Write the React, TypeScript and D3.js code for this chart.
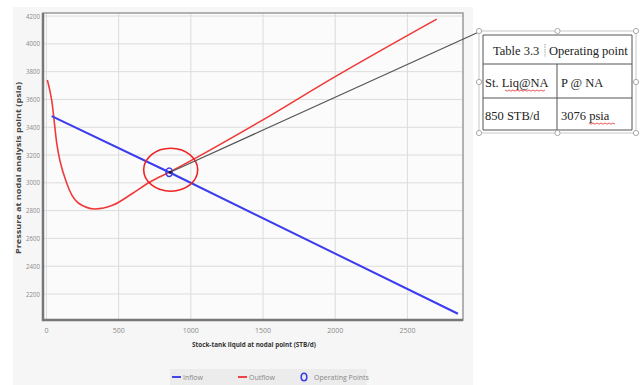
import React from 'react';
import { scaleLinear, line, curveMonotoneX } from 'd3';

// inflow (IPR) and outflow (VLP) curves
const inflowX = [36, 850, 2850];
const inflowP = [3480, 3076, 2058];

const outflowX = [6, 36, 71, 140, 220, 336, 461, 600, 717, 850, 1478, 1985, 2703];
const outflowP = [3740, 3596, 3286, 2998, 2855, 2812, 2840, 2927, 3006, 3076, 3440, 3755, 4178];

const opRate = 850;
const opPress = 3076;

const xTicks = [0, 500, 1000, 1500, 2000, 2500];
const yTicks = [2200, 2400, 2600, 2800, 3000, 3200, 3400, 3600, 3800, 4000, 4200];

const tableTitle = ['Table 3.3', 'Operating point'];
const tableHead = ['St. Liq@NA', 'P @ NA'];
const tableRow = ['850 STB/d', '3076 psia'];

const W = 640;
const H = 385;
const plot = { left: 43, right: 463, top: 13, bottom: 320 };

export default function App() {
  const x = scaleLinear().domain([-24, 2885]).range([plot.left, plot.right]);
  const y = scaleLinear().domain([2013, 4222]).range([plot.bottom, plot.top]);

  const lineGen = line<[number, number]>()
    .x(d => x(d[0]))
    .y(d => y(d[1]));
  const curveGen = line<[number, number]>()
    .x(d => x(d[0]))
    .y(d => y(d[1]))
    .curve(curveMonotoneX);

  const inflow = inflowX.map((v, i) => [v, inflowP[i]] as [number, number]);
  const outflow = outflowX.map((v, i) => [v, outflowP[i]] as [number, number]);

  const ox = x(opRate);
  const oy = y(opPress);

  const tickFont = "'Open Sans', sans-serif";
  const serif = "'Liberation Serif', 'Times New Roman', serif";

  // table geometry
  const tL = 483, tR = 632, tT = 35, tM = 557;
  const rows = [35, 64, 98, 130];
  const frame = { l: 479, r: 636, t: 31, b: 133 };
  const handles = [
    [frame.l, frame.t], [(frame.l + frame.r) / 2, frame.t], [frame.r, frame.t],
    [frame.l, (frame.t + frame.b) / 2], [frame.r, (frame.t + frame.b) / 2],
    [frame.l, frame.b], [(frame.l + frame.r) / 2, frame.b], [frame.r, frame.b],
  ];

  const squiggle = (x0: number, x1: number, yy: number) => {
    let d = `M${x0},${yy}`;
    for (let xx = x0, k = 0; xx < x1; xx += 2, k++) {
      d += ` L${xx + 2},${yy + (k % 2 === 0 ? 1.2 : 0)}`;
    }
    return d;
  };

  return (
    <svg width={W} height={H} style={{ position: 'absolute', left: 0, top: 0, background: '#fff' }}>
      <rect x={13} y={7} width={460} height={378} fill="#f6f6f6" />
      <rect x={plot.left} y={plot.top} width={plot.right - plot.left} height={plot.bottom - plot.top} fill="#fbfbfb" />

      {/* grid */}
      {xTicks.map(t => (
        <line key={'gx' + t} x1={x(t)} x2={x(t)} y1={plot.top} y2={plot.bottom} stroke="#dcdcdc" strokeWidth={1} />
      ))}
      {yTicks.map(t => (
        <line key={'gy' + t} x1={plot.left} x2={plot.right} y1={y(t)} y2={y(t)} stroke="#dcdcdc" strokeWidth={1} />
      ))}

      {/* border */}
      <rect x={plot.left} y={plot.top} width={plot.right - plot.left} height={plot.bottom - plot.top}
        fill="none" stroke="#9a9a9a" strokeWidth={1.5} />
      <line x1={plot.left} x2={plot.left} y1={plot.top} y2={plot.bottom + 1} stroke="#777" strokeWidth={2.5} />
      <line x1={plot.left - 1} x2={plot.right} y1={plot.bottom} y2={plot.bottom} stroke="#777" strokeWidth={2.5} />

      {/* tick labels */}
      {xTicks.map(t => (
        <text key={'tx' + t} x={x(t)} y={plot.bottom + 13} fontSize={7} fill="#8a8a8a"
          textAnchor="middle" fontFamily={tickFont}>{t}</text>
      ))}
      {yTicks.map(t => (
        <text key={'ty' + t} x={plot.left - 3} y={y(t) + 2.5} fontSize={7} fill="#8a8a8a"
          textAnchor="end" fontFamily={tickFont} textLength={14} lengthAdjust="spacingAndGlyphs">{t}</text>
      ))}

      {/* axis titles */}
      <text x={254} y={347} fontSize={7.5} fontWeight="bold" fill="#333" textAnchor="middle"
        fontFamily={tickFont} textLength={124} lengthAdjust="spacingAndGlyphs">
        Stock-tank liquid at nodal point (STB/d)
      </text>
      <text transform={`translate(20.5,168) rotate(-90)`} fontSize={7} fontWeight="bold" fill="#444"
        textAnchor="middle" fontFamily={tickFont} textLength={172} lengthAdjust="spacingAndGlyphs">
        Pressure at nodal analysis point (psia)
      </text>

      {/* curves */}
      <path d={curveGen(outflow) || ''} fill="none" stroke="#f03a3a" strokeWidth={1.6} />
      <path d={lineGen(inflow) || ''} fill="none" stroke="#3b3bf0" strokeWidth={2} />

      {/* operating point */}
      <ellipse cx={ox + 1.5} cy={oy - 2.5} rx={27} ry={21.5} fill="none" stroke="#ee2222" strokeWidth={1.6} />
      <ellipse cx={ox} cy={oy} rx={3.2} ry={4.2} fill="none" stroke="#3b3bf0" strokeWidth={1.5} />
      <line x1={ox + 1} y1={oy} x2={frame.l + 2} y2={frame.t} stroke="#555" strokeWidth={1.2} />
      <circle cx={ox + 1} cy={oy} r={1.3} fill="#111" />

      {/* legend */}
      <rect x={170} y={369} width={197} height={16} fill="#ececec" />
      <line x1={172} x2={181} y1={377} y2={377} stroke="#4444ee" strokeWidth={2} />
      <text x={183} y={379.5} fontSize={7} fill="#888" fontFamily={tickFont}>Inflow</text>
      <line x1={238} x2={247} y1={377} y2={377} stroke="#f04444" strokeWidth={2} />
      <text x={249} y={379.5} fontSize={7} fill="#888" fontFamily={tickFont}>Outflow</text>
      <ellipse cx={304} cy={377} rx={2.8} ry={3.8} fill="none" stroke="#3b3bf0" strokeWidth={1.6} />
      <text x={314} y={379.5} fontSize={7} fill="#888" fontFamily={tickFont}>Operating Points</text>

      {/* word table */}
      <rect x={frame.l} y={frame.t} width={frame.r - frame.l} height={frame.b - frame.t} fill="#fff" stroke="#c8c8c8" strokeWidth={1} />
      {rows.map(r => (
        <line key={'r' + r} x1={tL} x2={tR} y1={r} y2={r} stroke="#555" strokeWidth={1} />
      ))}
      <line x1={tL} x2={tL} y1={tT} y2={rows[3]} stroke="#555" strokeWidth={1} />
      <line x1={tR} x2={tR} y1={tT} y2={rows[3]} stroke="#555" strokeWidth={1} />
      <line x1={tM} x2={tM} y1={rows[1]} y2={rows[3]} stroke="#555" strokeWidth={1} />
      {handles.map((h, i) => (
        <circle key={'h' + i} cx={h[0]} cy={h[1]} r={2.6} fill="#fff" stroke="#aaa" strokeWidth={1} />
      ))}

      <text x={493} y={55} fontSize={12.5} fill="#222" fontFamily={serif}>{tableTitle[0]}</text>
      <line x1={545} x2={545} y1={44} y2={57} stroke="#888" strokeWidth={0.8} strokeDasharray="1.5,1" />
      <text x={549} y={55} fontSize={12.5} fill="#222" fontFamily={serif}>{tableTitle[1]}</text>

      <text x={485} y={87} fontSize={12.5} fill="#222" fontFamily={serif}>{tableHead[0]}</text>
      <text x={561} y={87} fontSize={12.5} fill="#222" fontFamily={serif}>{tableHead[1]}</text>
      <path d={squiggle(505, 544, 90)} fill="none" stroke="#e03030" strokeWidth={0.8} />

      <text x={485} y={120} fontSize={12.5} fill="#222" fontFamily={serif}>{tableRow[0]}</text>
      <text x={561} y={120} fontSize={12.5} fill="#222" fontFamily={serif}>{tableRow[1]}</text>
      <path d={squiggle(589, 614, 123)} fill="none" stroke="#e03030" strokeWidth={0.8} />
    </svg>
  );
}
